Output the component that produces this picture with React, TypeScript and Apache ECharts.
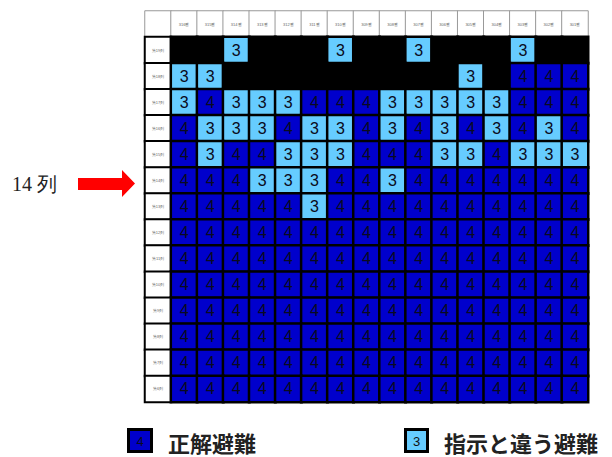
import React, { useEffect, useRef } from "react";
import * as echarts from "echarts";

const seatNumbers = [
  "316番", "315番", "314番", "313番", "312番", "311番", "310番", "309番",
  "308番", "307番", "306番", "305番", "304番", "303番", "302番", "301番",
];
const rowLabels = [
  "第19列", "第18列", "第17列", "第16列", "第15列", "第14列", "第13列",
  "第12列", "第11列", "第10列", "第9列", "第8列", "第7列", "第6列",
];
// 0 = empty seat, 3 = evacuated differently from instructions, 4 = correct evacuation
const row19 = [0, 0, 3, 0, 0, 0, 3, 0, 0, 3, 0, 0, 0, 3, 0, 0];
const row18 = [3, 3, 0, 0, 0, 0, 0, 0, 0, 0, 0, 3, 0, 4, 4, 4];
const row17 = [3, 4, 3, 3, 3, 4, 4, 4, 3, 3, 3, 3, 3, 4, 4, 4];
const row16 = [4, 3, 3, 3, 4, 3, 3, 4, 3, 4, 3, 4, 3, 4, 3, 4];
const row15 = [4, 3, 4, 4, 3, 3, 3, 4, 4, 4, 3, 3, 4, 3, 3, 3];
const row14 = [4, 4, 4, 3, 3, 3, 4, 4, 3, 4, 4, 4, 4, 4, 4, 4];
const row13 = [4, 4, 4, 4, 4, 3, 4, 4, 4, 4, 4, 4, 4, 4, 4, 4];
const row12 = [4, 4, 4, 4, 4, 4, 4, 4, 4, 4, 4, 4, 4, 4, 4, 4];
const row11 = [4, 4, 4, 4, 4, 4, 4, 4, 4, 4, 4, 4, 4, 4, 4, 4];
const row10 = [4, 4, 4, 4, 4, 4, 4, 4, 4, 4, 4, 4, 4, 4, 4, 4];
const row9 = [4, 4, 4, 4, 4, 4, 4, 4, 4, 4, 4, 4, 4, 4, 4, 4];
const row8 = [4, 4, 4, 4, 4, 4, 4, 4, 4, 4, 4, 4, 4, 4, 4, 4];
const row7 = [4, 4, 4, 4, 4, 4, 4, 4, 4, 4, 4, 4, 4, 4, 4, 4];
const row6 = [4, 4, 4, 4, 4, 4, 4, 4, 4, 4, 4, 4, 4, 4, 4, 4];
const seatRows = [row19, row18, row17, row16, row15, row14, row13, row12, row11, row10, row9, row8, row7, row6];

const legendCorrect = "正解避難";
const legendDifferent = "指示と違う避難";
const annotation = "14 列";

const DARK = "#0000CC";
const LIGHT = "#66CCFF";

export default function App() {
  const ref = useRef<HTMLDivElement>(null);
  useEffect(() => {
    if (!ref.current) return;
    const chart = echarts.init(ref.current, null, { renderer: "svg" });
    const xCats = ["", ...seatNumbers];
    const yCats = ["", ...rowLabels];
    const data: any[] = [];
    const noBorder = { textBorderWidth: 0, textBorderColor: "transparent", textShadowBlur: 0 };
    // header row
    for (let c = 0; c < xCats.length; c++) {
      data.push({
        value: [c, 0, -1],
        itemStyle: { borderColor: "#999999", borderWidth: 1 },
        label: { show: c > 0, formatter: xCats[c], fontSize: 4, color: "#666", ...noBorder },
      });
    }
    seatRows.forEach((row, r) => {
      data.push({
        value: [0, r + 1, -1],
        itemStyle: { borderColor: "#000000", borderWidth: 2 },
        label: { show: true, formatter: rowLabels[r], fontSize: 4, color: "#666", ...noBorder },
      });
      row.forEach((v, c) => {
        data.push({
          value: [c + 1, r + 1, v],
          itemStyle: { borderColor: "#000000", borderWidth: 2.5 },
          label: {
            show: v !== 0,
            formatter: String(v),
            fontSize: 16,
            color: "#0a0a20",
            fontFamily: "Liberation Sans",
            ...noBorder,
          },
        });
      });
    });

    chart.setOption({
      animation: false,
      grid: { left: 145, top: 11, width: 443, height: 391 },
      xAxis: { type: "category", data: xCats, show: false },
      yAxis: { type: "category", data: yCats, inverse: true, show: false },
      visualMap: {
        type: "piecewise",
        show: false,
        dimension: 2,
        pieces: [
          { value: -1, color: "#ffffff" },
          { value: 0, color: "#000000" },
          { value: 3, color: LIGHT },
          { value: 4, color: DARK },
        ],
      },
      series: [
        {
          type: "heatmap",
          data,
          emphasis: { disabled: true },
          label: { show: true, ...noBorder },
        },
      ],
      graphic: [
        {
          type: "text",
          left: 12,
          top: 174,
          style: { text: annotation, fontSize: 20, fontFamily: "serif", fill: "#222" },
        },
        {
          type: "polygon",
          shape: {
            points: [
              [78, 178], [122, 178], [122, 170], [135, 183.5], [122, 197], [122, 190], [78, 190],
            ],
          },
          style: { fill: "#FF0000" },
        },
        {
          type: "rect",
          shape: { x: 128.5, y: 429.5, width: 23, height: 22 },
          style: { fill: DARK, stroke: "#000", lineWidth: 3 },
        },
        {
          type: "text",
          x: 140, y: 441,
          style: { text: "4", fontSize: 13, fontFamily: "Liberation Sans", fill: "#0a0a20", align: "center", verticalAlign: "middle" },
        },
        {
          type: "text",
          x: 168, y: 442,
          style: { text: legendCorrect, fontSize: 22, fontWeight: "bold", fontFamily: "Noto Sans CJK JP", fill: "#222", verticalAlign: "middle" },
        },
        {
          type: "rect",
          shape: { x: 405.5, y: 429.5, width: 22, height: 22 },
          style: { fill: LIGHT, stroke: "#000", lineWidth: 3 },
        },
        {
          type: "text",
          x: 416.5, y: 441,
          style: { text: "3", fontSize: 13, fontFamily: "Liberation Sans", fill: "#111", align: "center", verticalAlign: "middle" },
        },
        {
          type: "text",
          x: 444, y: 442,
          style: { text: legendDifferent, fontSize: 22, fontWeight: "bold", fontFamily: "Noto Sans CJK JP", fill: "#222", verticalAlign: "middle" },
        },
      ],
    });
    return () => chart.dispose();
  }, []);
  return (
    <div
      ref={ref}
      style={{ position: "absolute", left: 0, top: 0, width: 612, height: 457, background: "#fff" }}
    />
  );
}
